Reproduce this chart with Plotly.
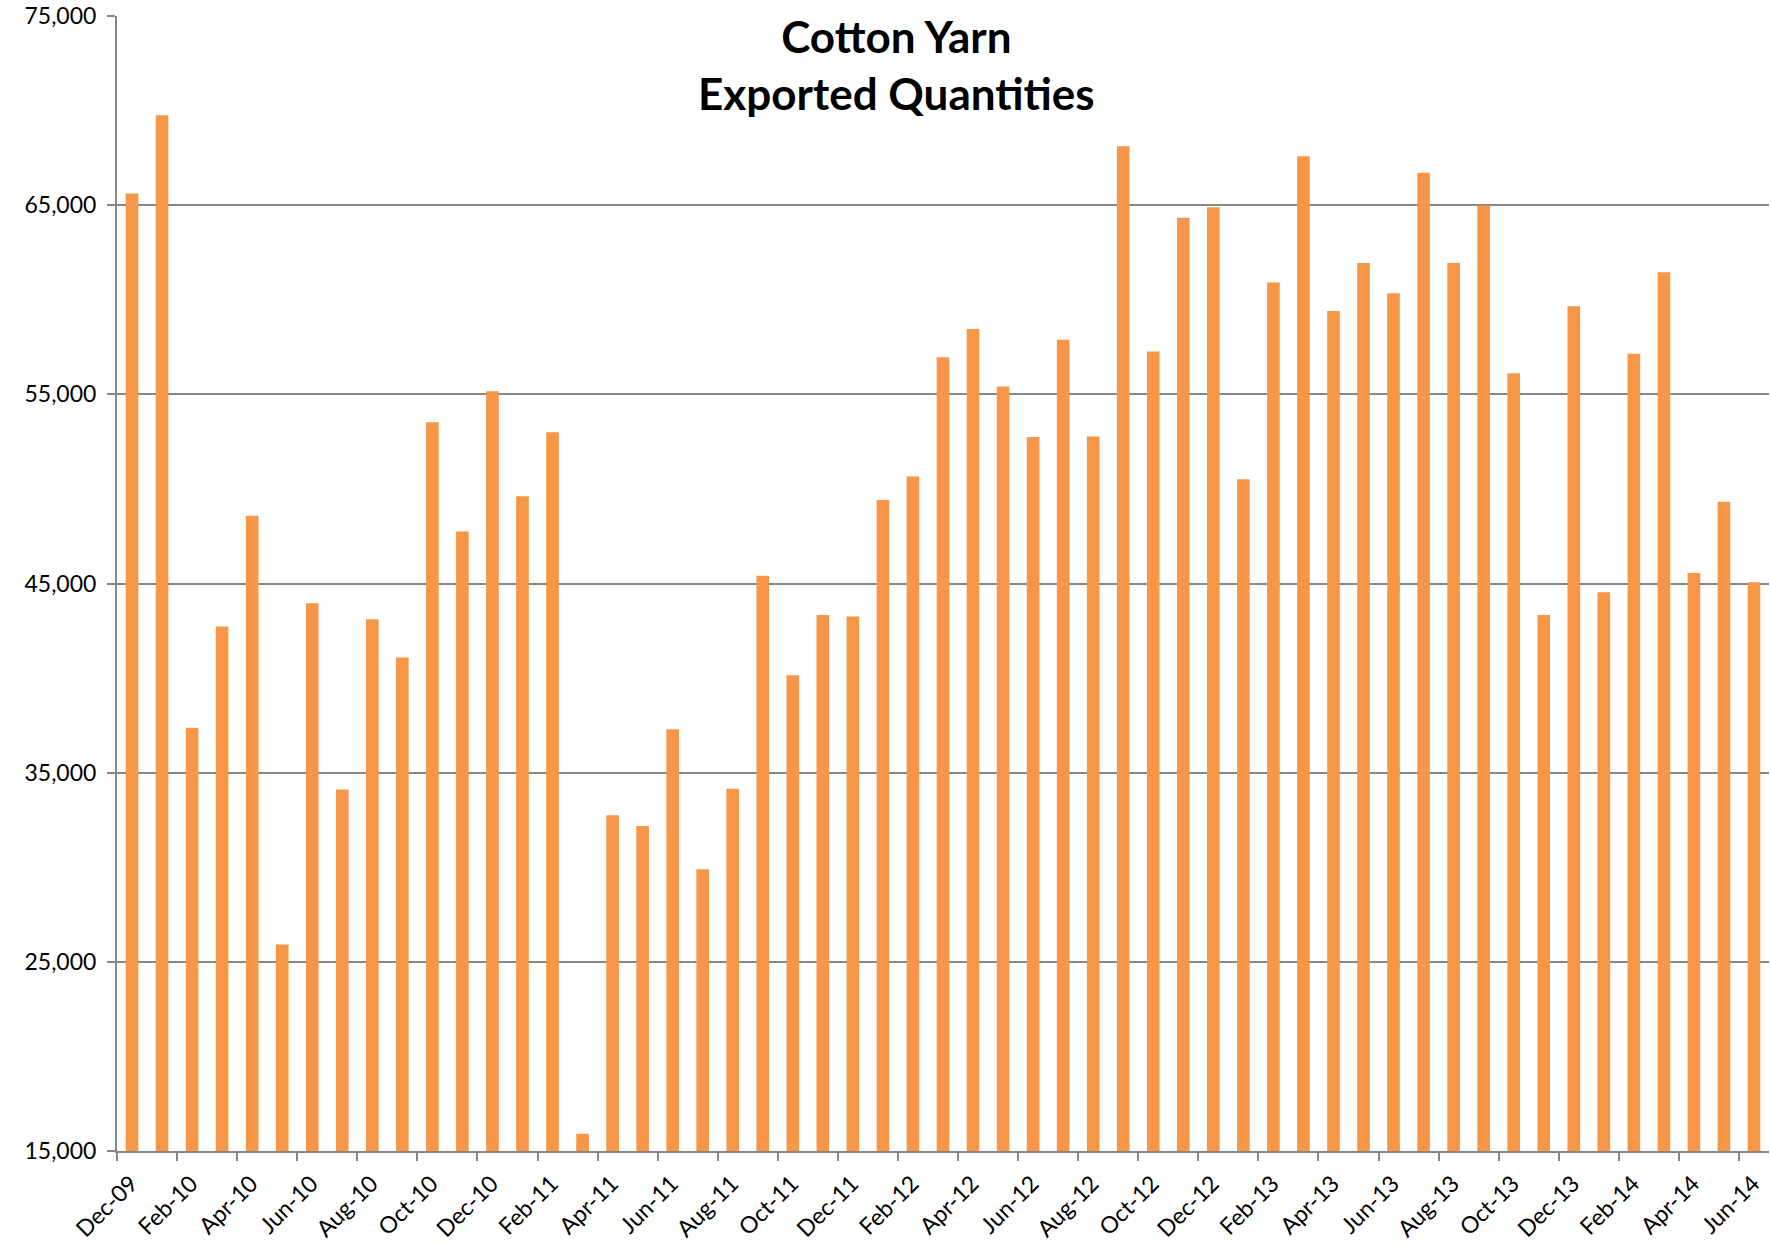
import numpy as np
import plotly.graph_objects as go

months = [
    "Dec-09",
    "Jan-10", "Feb-10", "Mar-10", "Apr-10", "May-10", "Jun-10",
    "Jul-10", "Aug-10", "Sep-10", "Oct-10", "Nov-10", "Dec-10",
    "Jan-11", "Feb-11", "Mar-11", "Apr-11", "May-11", "Jun-11",
    "Jul-11", "Aug-11", "Sep-11", "Oct-11", "Nov-11", "Dec-11",
    "Jan-12", "Feb-12", "Mar-12", "Apr-12", "May-12", "Jun-12",
    "Jul-12", "Aug-12", "Sep-12", "Oct-12", "Nov-12", "Dec-12",
    "Jan-13", "Feb-13", "Mar-13", "Apr-13", "May-13", "Jun-13",
    "Jul-13", "Aug-13", "Sep-13", "Oct-13", "Nov-13", "Dec-13",
    "Jan-14", "Feb-14", "Mar-14", "Apr-14", "May-14", "Jun-14",
]

quantities = [
    65620,
    69750, 37370, 42730, 48580, 25910, 43960,
    34110, 43110, 41090, 53520, 47750, 55160,
    49610, 52990, 15910, 32750, 32180, 37290,
    29890, 34150, 45410, 40150, 43330, 43260,
    49410, 50660, 56960, 58460, 55420, 52740,
    57890, 52770, 68110, 57270, 64340, 64890,
    50510, 60910, 67580, 59400, 61940, 60340,
    66720, 61940, 64980, 56110, 43340, 59660,
    44540, 57150, 61450, 45550, 49320, 45070,
]

y_ticks = [15000, 25000, 35000, 45000, 55000, 65000, 75000]

title_lines = ["Cotton Yarn", "Exported Quantities"]

n = len(months)
x_pos = np.arange(n) + 0.5
tick_idx = np.arange(0, n, 2)

grid_col = "#878787"
font_family = "Lato, 'Open Sans', sans-serif"

fig = go.Figure(
    go.Bar(
        x=x_pos,
        y=quantities,
        width=0.42,
        marker=dict(color="#F79646", line=dict(width=0)),
        hovertext=months,
    )
)

fig.update_layout(
    width=1771,
    height=1244,
    paper_bgcolor="white",
    plot_bgcolor="white",
    margin=dict(l=117, r=2, t=16, b=93),
    showlegend=False,
    font=dict(family=font_family, color="black"),
    annotations=[
        dict(
            text="<b>" + "<br>".join(title_lines) + "</b>",
            font=dict(family=font_family, size=44, color="black"),
            x=0.472,
            xref="paper",
            xanchor="center",
            y=1,
            yref="paper",
            yanchor="top",
            yshift=8,
            showarrow=False,
            align="center",
        )
    ],
)

fig.update_xaxes(
    range=[0, n],
    tickmode="array",
    tickvals=tick_idx,
    ticktext=[months[i] for i in tick_idx],
    tickangle=-45,
    tickfont=dict(size=23, color="black"),
    ticks="outside",
    ticklen=8,
    tickwidth=1.5,
    tickcolor=grid_col,
    showline=True,
    linecolor=grid_col,
    linewidth=2,
    showgrid=False,
    zeroline=False,
    automargin=False,
    ticklabelstandoff=0,
    ticklabelshift=14,
)

fig.update_yaxes(
    range=[15000, 75000],
    tickmode="array",
    tickvals=y_ticks,
    tickformat=",",
    tickfont=dict(size=23, color="black"),
    ticks="outside",
    ticklen=8,
    tickwidth=1.5,
    tickcolor=grid_col,
    showline=True,
    linecolor=grid_col,
    linewidth=2,
    showgrid=True,
    gridcolor=grid_col,
    gridwidth=1.5,
    zeroline=False,
    automargin=False,
    ticklabelstandoff=6,
)

fig.write_html(
    "out.html",
    config={"displayModeBar": False},
    post_script="document.body.style.margin='0';",
)
